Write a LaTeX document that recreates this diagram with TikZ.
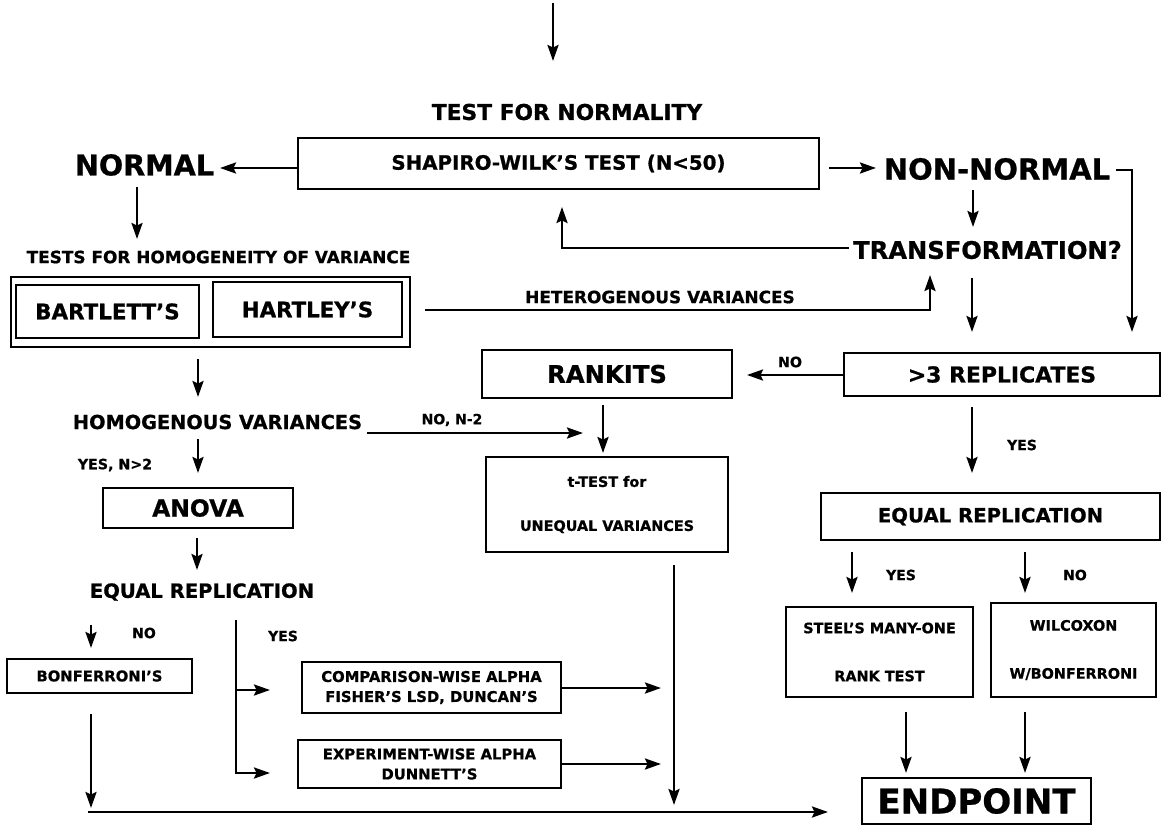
\documentclass[tikz,border=0pt]{standalone}
\usepackage{fontspec}
\setmainfont{DejaVu Sans}[BoldFeatures={FakeBold=0.8}]
\usetikzlibrary{arrows.meta}
\begin{document}
\begin{tikzpicture}[x=1pt,y=-1pt,
  every node/.style={inner sep=0pt, outer sep=0pt, text=black, anchor=center},
  box/.style={draw, line width=2.5pt},
  con/.style={line width=2.5pt},
  arr/.style={con, -{Stealth[length=16pt,width=11pt,inset=2.5pt]}},
  fs/.style={font=\fontsize{#1}{#1}\selectfont\bfseries},
]
\fill[white] (0,0) rectangle (1161,826);
\useasboundingbox (0,0) rectangle (1161,826);

% ---------- nodes ----------
\node[fs=21.8] (testfor) at (567,112) {TEST FOR NORMALITY};
\node[box, fs=19.8, minimum width=521, minimum height=51] (shapiro) at (558.5,163.5) {SHAPIRO-WILK’S TEST (N<50)};
\node[fs=28.6] (normal) at (144.5,165) {NORMAL};
\node[fs=29] (nonnormal) at (997,169) {NON-NORMAL};
\node[fs=24.2] (transf) at (987.5,250) {TRANSFORMATION?};
\node[fs=16.9] (homtests) at (218.5,257) {TESTS FOR HOMOGENEITY OF VARIANCE};
\node[box, minimum width=399, minimum height=70] (homgrp) at (210.5,312) {};
\node[box, fs=21.4, minimum width=183, minimum height=53] (bartlett) at (107.5,311.5) {BARTLETT’S};
\node[box, fs=21.3, minimum width=189, minimum height=55] (hartley) at (307.5,309.5) {HARTLEY’S};
\node[fs=16.9] (hetlab) at (660,297) {HETEROGENOUS VARIANCES};
\node[box, fs=21.9, minimum width=316, minimum height=43] (reps) at (1002,374.5) {>3 REPLICATES};
\node[fs=14.2] (nolab1) at (790,362) {NO};
\node[box, fs=24.3, minimum width=250, minimum height=48] (rankits) at (607,374) {RANKITS};
\node[fs=19.3] (homvar) at (217.5,422) {HOMOGENOUS VARIANCES};
\node[fs=14] (non2) at (452,420) {NO, N-2};
\node[fs=14.2] (yesn2) at (115,465) {YES, N>2};
\node[box, fs=23.4, minimum width=190, minimum height=40] (anova) at (198,508) {ANOVA};
\node[box, align=center, font=\fontsize{14.4}{44}\selectfont\bfseries, minimum width=242, minimum height=95] (ttest) at (607,504.5) {t-TEST for\\UNEQUAL VARIANCES};
\node[fs=14] (yeslab1) at (1022,445) {YES};
\node[box, fs=19.7, minimum width=339, minimum height=47] (eqrepR) at (990.5,516.5) {EQUAL REPLICATION};
\node[fs=19.6] (eqrepL) at (202,592) {EQUAL REPLICATION};
\node[fs=14] (nolab2) at (144,633) {NO};
\node[fs=14] (yeslab2) at (283,636) {YES};
\node[box, fs=14.8, minimum width=185, minimum height=34] (bonf) at (99.5,676) {BONFERRONI’S};
\node[box, align=center, font=\fontsize{14.8}{20}\selectfont\bfseries, minimum width=259, minimum height=51] (comp) at (431.5,687.5) {COMPARISON-WISE ALPHA\\FISHER’S LSD, DUNCAN’S};
\node[box, align=center, font=\fontsize{14.8}{20}\selectfont\bfseries, minimum width=263, minimum height=48] (exp) at (429.5,764) {EXPERIMENT-WISE ALPHA\\DUNNETT’S};
\node[fs=14] (yeslab3) at (901,575) {YES};
\node[fs=14] (nolab3) at (1075,575) {NO};
\node[box, align=center, font=\fontsize{14.4}{48}\selectfont\bfseries, minimum width=187, minimum height=90] (steel) at (879.5,652) {STEEL’S MANY-ONE\\RANK TEST};
\node[box, align=center, font=\fontsize{14.4}{48}\selectfont\bfseries, minimum width=165, minimum height=94] (wilc) at (1073.5,650) {WILCOXON\\W/BONFERRONI};
\node[box, fs=34, minimum width=229, minimum height=46] (endpt) at (976.5,801) {ENDPOINT};

% ---------- connector end points ----------
\coordinate (top0) at (553,3);   \coordinate (top1) at (553,61);
\coordinate (nl) at (220,168);
\coordinate (nd0) at (137,187);  \coordinate (nd1) at (137,239);
\coordinate (nn0) at (829,168);  \coordinate (nn1) at (876,168);
\coordinate (nr0) at (1116,170); \coordinate (nr1) at (1132,170); \coordinate (nr2) at (1132,332);
\coordinate (nt0) at (973,190);  \coordinate (nt1) at (973,227);
\coordinate (tl0) at (849,248);  \coordinate (tl1) at (562,248); \coordinate (tl2) at (562,207);
\coordinate (he0) at (425,310);  \coordinate (he1) at (930,310); \coordinate (he2) at (930,275);
\coordinate (td0) at (972,278);  \coordinate (td1) at (972,332);
\coordinate (no1) at (836,375);  \coordinate (no2) at (747,375);
\coordinate (rk0) at (603,405);  \coordinate (rk1) at (603,453);
\coordinate (bh0) at (198,359);  \coordinate (bh1) at (198,397);
\coordinate (hn0) at (367,433);  \coordinate (hn1) at (583,433);
\coordinate (hy0) at (198,439);  \coordinate (hy1) at (198,473);
\coordinate (an0) at (197,538);  \coordinate (an1) at (197,570);
\coordinate (tt0) at (674,565);  \coordinate (tt1) at (674,805);
\coordinate (ry0) at (972,407);  \coordinate (ry1) at (972,473);
\coordinate (ey0) at (852,552);  \coordinate (ey1) at (852,593);
\coordinate (en0) at (1025,552); \coordinate (en1) at (1025,593);
\coordinate (ln0) at (91,625);   \coordinate (ln1) at (91,648);
\coordinate (ly0) at (236,620);  \coordinate (ly1) at (236,773); \coordinate (ly2) at (270,773);
\coordinate (ly3) at (236,690);  \coordinate (ly4) at (270,690);
\coordinate (cp1) at (661,688);  \coordinate (ex1) at (661,764);
\coordinate (bf0) at (91,714);   \coordinate (bf1) at (91,808);
\coordinate (bt0) at (88,812);   \coordinate (bt1) at (828,812);
\coordinate (st0) at (906,712);  \coordinate (st1) at (906,773);
\coordinate (wc0) at (1025,712); \coordinate (wc1) at (1025,773);

% ---------- connectors ----------
\draw[arr] (top0) -- (top1);
\draw[arr] (shapiro.west |- nl) -- (nl);
\draw[arr] (nd0) -- (nd1);
\draw[arr] (nn0) -- (nn1);
\draw[arr] (nr0) -- (nr1) -- (nr2);
\draw[arr] (nt0) -- (nt1);
\draw[arr] (tl0) -- (tl1) -- (tl2);
\draw[arr] (he0) -- (he1) -- (he2);
\draw[arr] (td0) -- (td1);
\draw[arr] (reps.west |- no1) -- (no2);
\draw[arr] (rk0) -- (rk1);
\draw[arr] (bh0) -- (bh1);
\draw[arr] (hn0) -- (hn1);
\draw[arr] (hy0) -- (hy1);
\draw[arr] (an0) -- (an1);
\draw[arr] (tt0) -- (tt1);
\draw[arr] (ry0) -- (ry1);
\draw[arr] (ey0) -- (ey1);
\draw[arr] (en0) -- (en1);
\draw[arr] (ln0) -- (ln1);
\draw[arr] (ly0) -- (ly1) -- (ly2);
\draw[arr] (ly3) -- (ly4);
\draw[arr] (comp.east |- cp1) -- (cp1);
\draw[arr] (exp.east |- ex1) -- (ex1);
\draw[arr] (bf0) -- (bf1);
\draw[arr] (bt0) -- (bt1);
\draw[arr] (st0) -- (st1);
\draw[arr] (wc0) -- (wc1);
\end{tikzpicture}
\end{document}
